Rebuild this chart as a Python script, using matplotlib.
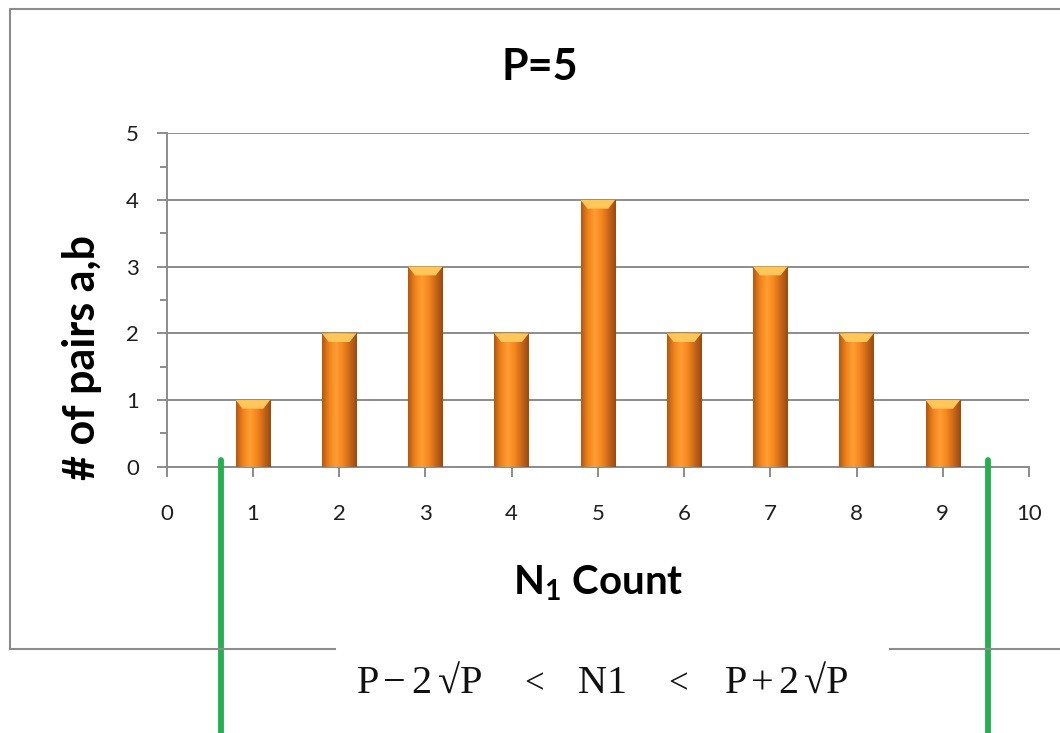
import matplotlib
matplotlib.use("Agg")
import matplotlib.pyplot as plt
import numpy as np
from matplotlib.colors import LinearSegmentedColormap
from matplotlib.lines import Line2D
from matplotlib.patches import Polygon

# data
n1_count = [1, 2, 3, 4, 5, 6, 7, 8, 9]
pairs = [1, 2, 3, 2, 4, 2, 3, 2, 1]
bounds = [0.635, 9.52]          # green markers, P - 2sqrt(P) and P + 2sqrt(P)
x_ticks = list(range(0, 11))
y_ticks = list(range(0, 6))

plt.rcParams['font.family'] = ['Lato', 'DejaVu Sans']
plt.rcParams['mathtext.default'] = 'regular'

W, H = 1060, 733
fig = plt.figure(figsize=(W / 100, H / 100), dpi=100)
ax = fig.add_axes([166.7 / W, 1 - 466.7 / H, 862.3 / W, 333.4 / H])

grey = '#8c8c8c'
bar_w = 0.4

bars = ax.bar(n1_count, pairs, width=bar_w, color='#f28a1e', edgecolor='none', zorder=3)

# bevel-ish look: horizontal gradient plus a light top
cmap = LinearSegmentedColormap.from_list(
    'orange', ['#b65812', '#f0841c', '#ff9d33', '#f4871d', '#c8661a', '#9c4a0e'])
grad = np.linspace(0, 1, 64).reshape(1, -1)
for b in bars:
    x0, h = b.get_x(), b.get_height()
    im = ax.imshow(grad, cmap=cmap, aspect='auto', extent=(x0, x0 + bar_w, 0, h),
                   zorder=4, interpolation='bilinear')
    im.set_clip_path(b)
    bev = 0.13
    ax.add_patch(Polygon([(x0, h), (x0 + bar_w, h), (x0 + bar_w - 0.08, h - bev),
                          (x0 + 0.08, h - bev)], closed=True,
                         facecolor='#ffc65a', edgecolor='none', zorder=5))

ax.set_xlim(0, 10)
ax.set_ylim(0, 5)
ax.set_xticks(x_ticks)
ax.set_yticks(y_ticks)
ax.set_yticks(np.arange(0.5, 5, 1), minor=True)
ax.yaxis.grid(True, color=grey, linewidth=1.4, zorder=0)
ax.set_axisbelow(True)
for s in ['top', 'right']:
    ax.spines[s].set_visible(False)
for s in ['left', 'bottom']:
    ax.spines[s].set_color(grey)
    ax.spines[s].set_linewidth(1.4)
ax.tick_params(axis='y', which='major', length=7, width=1.4, color=grey, pad=13,
               labelsize=16, labelcolor='#1f1f1f')
ax.tick_params(axis='y', which='minor', length=5, width=1.4, color=grey)
ax.tick_params(axis='x', length=7, width=1.4, color=grey, pad=20,
               labelsize=16, labelcolor='#1f1f1f')

# green markers running down past the chart
for b in bounds:
    ax.plot([b, b], [0.1, -4.2], color='#22b14c', linewidth=4.2,
            solid_capstyle='round', clip_on=False, zorder=10)

fig.text(540 / W, 1 - 80 / H, 'P=5', ha='center', va='baseline',
         fontsize=31, fontweight='bold')
fig.text(598 / W, 1 - 595 / H, 'N$_1$ Count', ha='center', va='baseline',
         fontsize=29, fontweight='bold')
fig.text(82 / W, 1 - 358 / H, '# of pairs a,b', ha='center', va='center',
         rotation=90, fontsize=31, fontweight='bold')

# chart frame, broken at the bottom by the formula box
def fline(xs, ys):
    fig.add_artist(Line2D([x / W for x in xs], [1 - y / H for y in ys],
                          color=grey, linewidth=1.5, zorder=1))

fline([9.5, 9.5, W], [649.3, 8.5, 8.5])
fline([9.5, 335], [649.3, 649.3])
fline([890, W], [649.3, 649.3])

# formula, spread out wide like the original, a piece at a time
formula = [('P', 368, 29), ('\u2212', 394.5, 29), ('2', 421, 29), ('\u221aP', 460.5, 29),
           ('<', 534, 25), ('N', 592, 29), ('1', 617, 29),
           ('<', 678.5, 25), ('P', 736, 29), ('+', 762, 29), ('2', 788, 29),
           ('\u221aP', 826, 29)]
for ch, xc, fs in formula:
    fig.text(xc / W, 1 - 693 / H, ch, ha='center', va='baseline', fontsize=fs,
             family=['Liberation Serif', 'DejaVu Serif'], color='#111111')

fig.savefig('out.png', dpi=100)
